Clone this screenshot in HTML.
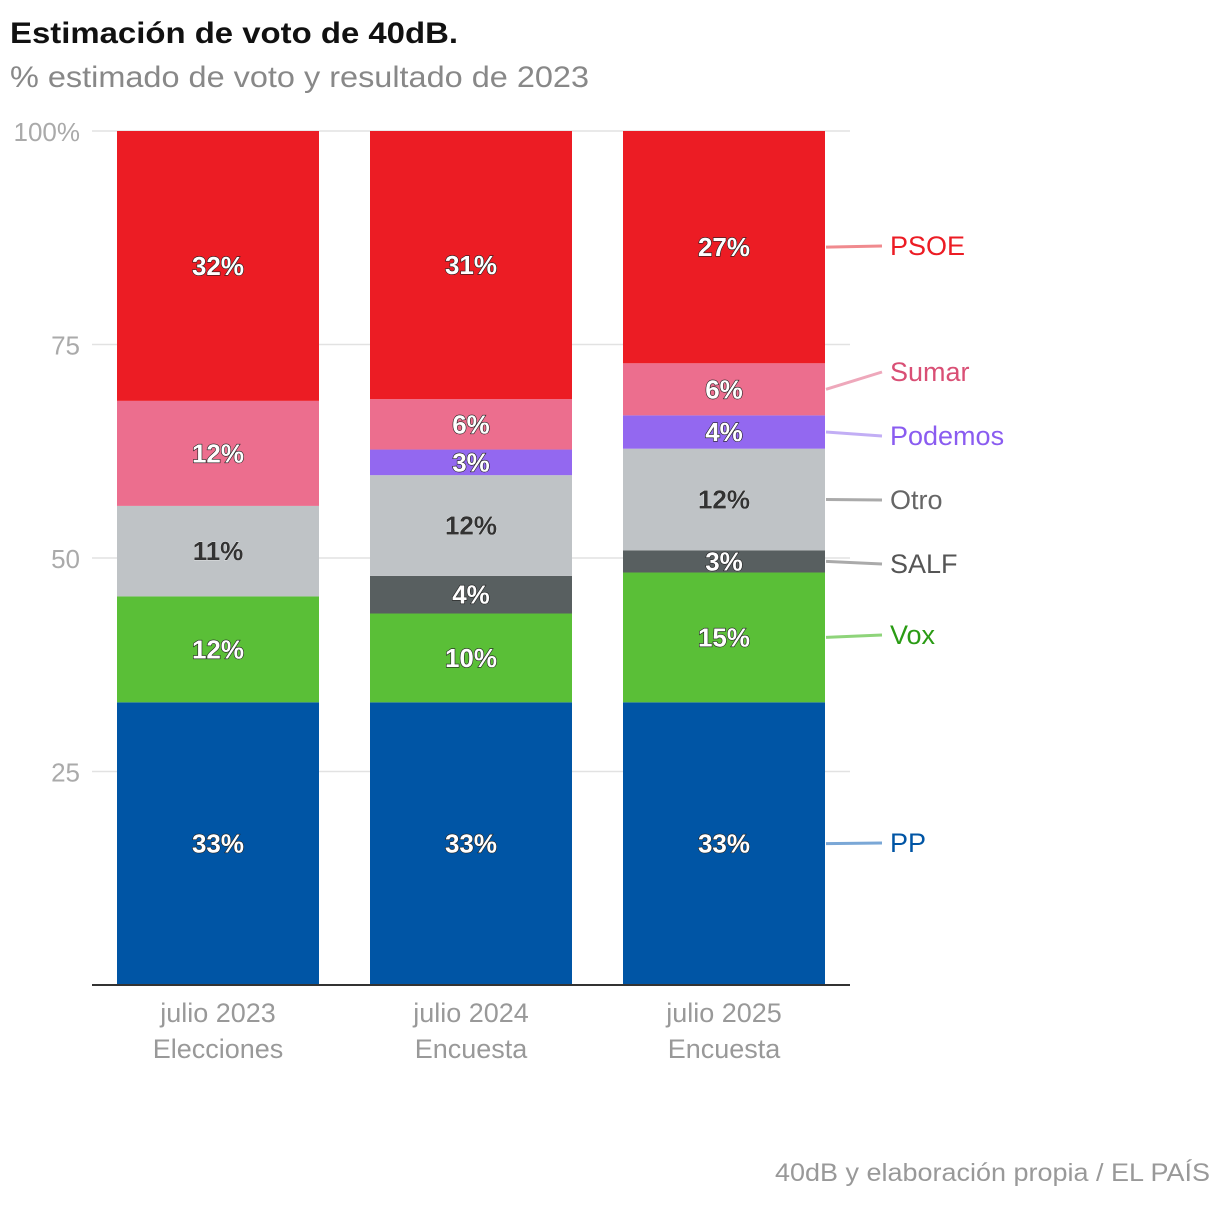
<!DOCTYPE html>
<html><head><meta charset="utf-8">
<style>
body{margin:0;background:#fff;width:1220px;height:1202px;overflow:hidden;font-family:"Liberation Sans",sans-serif}
</style></head>
<body>
<svg width="1220" height="1202">
<text x="10" y="43" font-size="30" font-weight="bold" fill="#111" textLength="448" lengthAdjust="spacingAndGlyphs">Estimación de voto de 40dB.</text>
<text x="10" y="87" font-size="30" fill="#888" textLength="579" lengthAdjust="spacingAndGlyphs">% estimado de voto y resultado de 2023</text>
<text x="1210" y="1181" font-size="25" fill="#999" text-anchor="end" textLength="435" lengthAdjust="spacingAndGlyphs">40dB y elaboración propia / EL PAÍS</text>
<g id="grid"></g><g id="bars"></g><g id="legend"></g>
</svg>
<script>
const categories=["julio 2023|Elecciones","julio 2024|Encuesta","julio 2025|Encuesta"];
const parties=["PP","Vox","SALF","Otro","Podemos","Sumar","PSOE"];
const valPP=[33.1,33.1,33.1];
const valVox=[12.4,10.4,15.2];
const valSALF=[0,4.4,2.6];
const valOtro=[10.6,11.8,11.9];
const valPodemos=[0,3.0,3.9];
const valSumar=[12.3,5.9,6.1];
const valPSOE=[31.6,31.4,27.2];
const yTicks=[25,50,75,100];
const series=[valPP,valVox,valSALF,valOtro,valPodemos,valSumar,valPSOE];
const colors=["#0055a5","#5abf37","#585f60","#bfc3c6","#9368f0","#ec6e8e","#ec1c24"];
const lineColors=["#7aa7d6","#8ed47a","#aaa","#aaa","#c2aef5","#eea8bb","#f08a8e"];
const textColors=["#0055a5","#2a9b14","#555","#666","#8a5cf0","#d94f75","#ec1c24"];
const labelY=[843,635,564,500,436,372,246];
const NS="http://www.w3.org/2000/svg";
const y0=985,y1=131,x0=92,x1=850;
const y=v=>y0-(y0-y1)*v/100;
const bx=i=>117+i*253, bw=202;
function mk(t,a,p){const e=document.createElementNS(NS,t);for(const k in a)e.setAttribute(k,a[k]);p.appendChild(e);return e;}
const g=document.getElementById('grid');
yTicks.forEach(t=>{
 const l=mk('line',{x1:x0,x2:x1,y1:y(t),y2:y(t),stroke:'#e2e2e2','stroke-width':1.5},g);
 
 
 const tx=mk('text',{x:80,y:y(t)+10,'font-size':26,fill:'#aaa','text-anchor':'end'},g);
 tx.textContent=t===100?'100%':t;
 
 
});
const b=document.getElementById('bars');
categories.forEach((c,i)=>{
 let cum=0;
 series.forEach((s,j)=>{
  const v=s[i]; if(v<=0)return;
  const top=y(Math.min(100,cum+v)),bot=y(cum);
  const r=mk('rect',{x:bx(i),y:top,width:bw,height:bot-top,fill:colors[j]},b);
  
  
  const t=mk('text',{x:bx(i)+bw/2,y:(top+bot)/2+9,'font-size':26,'font-weight':'bold','text-anchor':'middle',fill:j===3?'#333':'#fff',stroke:j===3?'#fff':'#222','stroke-width':j===3?0.5:1.2,'paint-order':'stroke'},b);
  t.textContent=Math.round(v)+'%';
  
  
  cum+=v;
 });
 const parts=c.split('|');
 parts.forEach((p,k)=>{
  const t=mk('text',{x:bx(i)+bw/2,y:1022+k*36,'font-size':27,fill:'#999','text-anchor':'middle'},b);
  t.textContent=p;
  
  
 });
});
const ax=mk('line',{x1:x0,x2:x1,y1:y0,y2:y0,stroke:'#333','stroke-width':2},b);


const lg=document.getElementById('legend');
let cum=0;
series.forEach((s,j)=>{
 const v=s[2]; const mid=y(cum+v/2); cum+=v;
 const l=mk('line',{x1:826,x2:882,y1:mid,y2:labelY[j],stroke:lineColors[j],'stroke-width':3},lg);
 
 
 const t=mk('text',{x:890,y:labelY[j]+9,'font-size':27,fill:textColors[j]},lg);
 t.textContent=parties[j];
 
 
});
</script>
</body></html>
